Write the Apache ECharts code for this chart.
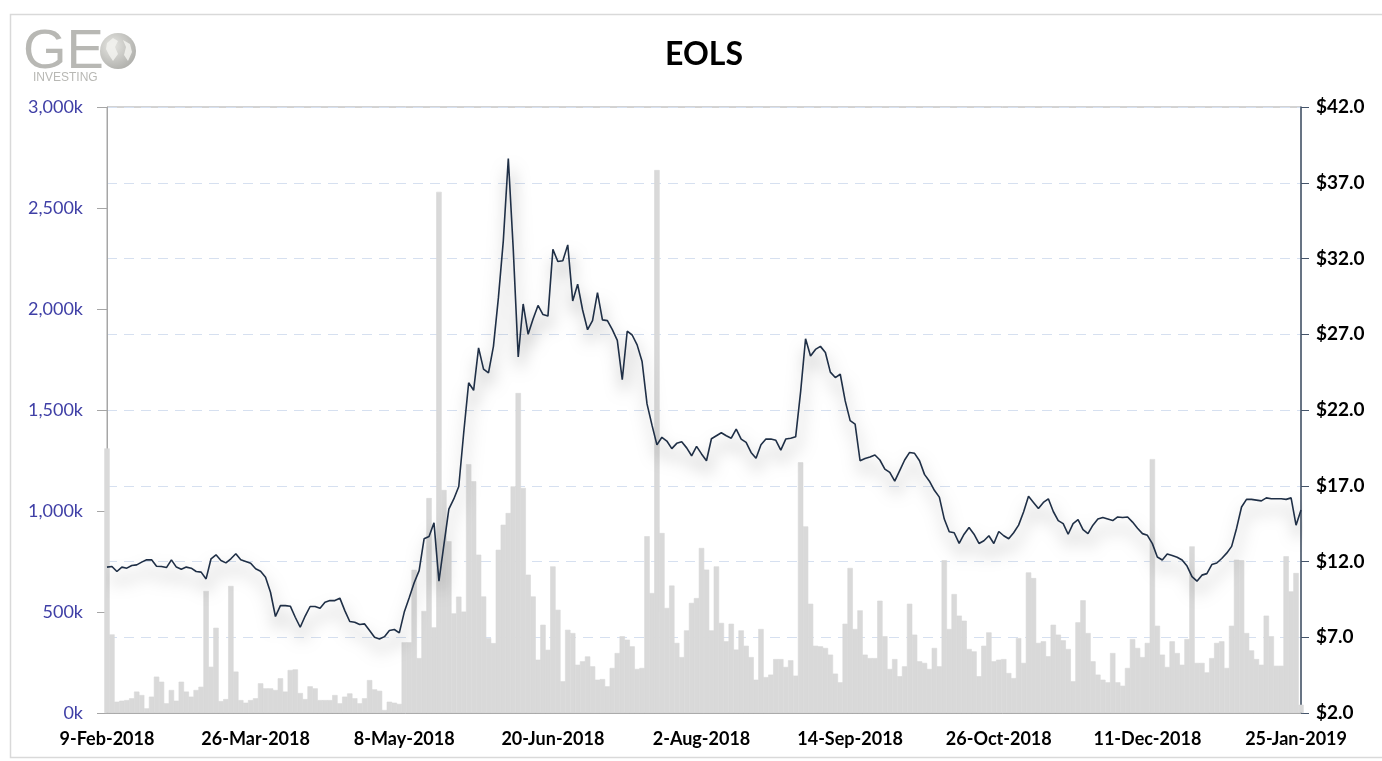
<!DOCTYPE html>
<html>
<head>
<meta charset="utf-8">
<script src="https://cdn.jsdelivr.net/npm/echarts@6/dist/echarts.min.js"></script>
<style>
html,body{margin:0;padding:0;background:#fff;}
#chart{width:1382px;height:761px;}
</style>
</head>
<body>
<div id="chart"></div>
<script>
// ---- DATA ----
var startDate = '2018-02-09';
var numPoints = 242;
var holidays = ['2018-02-19','2018-03-30','2018-05-28','2018-07-04','2018-09-03','2018-11-22','2018-12-05','2018-12-25','2019-01-01','2019-01-21'];
var monthNames = ['Jan','Feb','Mar','Apr','May','Jun','Jul','Aug','Sep','Oct','Nov','Dec'];

// daily closing price ($)
var price = [
11.63,11.67,11.34,11.63,11.56,11.74,11.78,11.96,12.11,12.11,
11.69,11.67,11.60,12.11,11.63,11.49,11.63,11.56,11.34,11.30,
10.85,12.18,12.44,12.07,11.91,12.18,12.51,12.11,12.00,11.89,
11.52,11.36,10.96,9.97,8.37,9.09,9.09,9.05,8.32,7.66,
8.40,9.03,9.03,8.92,9.31,9.42,9.42,9.58,8.76,8.04,
7.99,7.84,7.88,7.44,7.00,6.89,7.04,7.44,7.51,7.29,
8.66,9.60,10.60,11.40,13.50,13.65,14.55,10.70,13.10,15.46,
16.13,16.95,20.50,23.80,23.30,26.10,24.70,24.45,26.20,29.40,
33.20,38.60,32.60,25.50,29.00,27.00,28.00,28.90,28.30,28.20,
32.60,31.80,31.85,32.90,29.20,30.30,28.60,27.30,27.90,29.75,
27.95,27.90,27.30,26.60,24.00,27.20,26.95,26.30,25.20,22.40,
21.00,19.70,20.20,19.95,19.45,19.80,19.90,19.50,18.98,19.60,
19.10,18.65,20.10,20.30,20.50,20.30,20.14,20.74,20.08,19.86,
19.20,18.82,19.70,20.08,20.08,20.00,19.35,20.08,20.14,20.23,
23.20,26.70,25.57,26.00,26.20,25.80,24.50,24.14,24.36,22.60,
21.30,21.07,18.65,18.80,18.90,19.03,18.70,18.10,17.88,17.30,
18.00,18.70,19.20,19.14,18.65,17.75,17.30,16.70,16.25,14.80,
13.96,13.90,13.20,13.80,14.25,13.80,13.19,13.37,13.70,13.19,
13.98,13.70,13.50,13.90,14.40,15.27,16.30,15.90,15.50,15.90,
16.14,15.30,14.70,14.50,13.80,14.50,14.76,14.10,13.84,14.40,
14.80,14.90,14.80,14.70,14.94,14.90,14.94,14.60,14.20,13.84,
13.73,13.18,12.30,12.10,12.50,12.40,12.28,12.10,11.70,11.00,
10.70,11.10,11.20,11.80,11.90,12.20,12.55,13.00,14.20,15.60,
16.10,16.10,16.05,16.00,16.20,16.14,16.14,16.14,16.10,16.20,
14.40,15.40
];

// daily volume (thousands of shares)
var volume = [
1310,389,56,61,64,73,106,89,23,81,
180,155,48,114,61,155,106,81,114,130,
604,229,422,59,69,629,205,64,51,64,
73,147,122,122,114,172,106,213,216,99,
69,132,122,64,64,64,89,48,81,97,
73,48,73,163,117,110,15,56,51,45,
350,350,709,272,505,1064,424,2580,1104,850,
493,576,502,1232,1147,784,577,371,346,808,
932,990,1122,1584,1114,685,577,264,437,313,
726,511,157,412,396,239,256,280,231,165,
168,132,223,297,380,363,330,218,223,875,
594,2688,891,520,631,347,277,409,545,569,
817,710,409,726,446,355,442,314,409,333,
277,165,416,178,190,267,267,228,261,185,
1241,924,541,333,330,322,289,195,152,442,
718,416,508,289,272,272,556,380,218,267,
182,231,541,388,256,248,218,322,231,756,
416,589,482,457,317,305,182,333,399,256,
264,267,198,173,371,248,696,668,347,355,
281,437,388,360,317,157,449,558,396,256,
190,165,152,297,152,135,223,366,322,277,
347,1257,432,289,228,355,297,239,366,825,
248,248,201,272,347,355,223,432,759,756,
396,310,267,239,482,380,234,234,776,602,
693,41
];

// ---- trading-day categories ----
function pad(n){return n<10?'0'+n:''+n;}
var categories = [];
(function(){
  var d = new Date(startDate + 'T12:00:00Z');
  while (categories.length < numPoints) {
    var dow = d.getUTCDay();
    var iso = d.getUTCFullYear() + '-' + pad(d.getUTCMonth()+1) + '-' + pad(d.getUTCDate());
    if (dow !== 0 && dow !== 6 && holidays.indexOf(iso) < 0) {
      categories.push(d.getUTCDate() + '-' + monthNames[d.getUTCMonth()] + '-' + d.getUTCFullYear());
    }
    d.setUTCDate(d.getUTCDate() + 1);
  }
})();

var chart = echarts.init(document.getElementById('chart'), null, {renderer: 'canvas'});
var FONT = 'Lato, "Open Sans", sans-serif';

var option = {
  animation: false,
  backgroundColor: '#ffffff',
  title: {
    text: 'EOLS',
    left: 699, top: 34,
    textAlign: 'center',
    textStyle: {fontFamily: FONT, fontWeight: 'bold', fontSize: 32, color: '#000'}
  },
  grid: {
    left: 107, right: 81, top: 107, bottom: 48,
    show: true, borderColor: '#a6a6a6', borderWidth: 1, backgroundColor: 'transparent'
  },
  xAxis: {
    type: 'category',
    data: categories,
    boundaryGap: false,
    axisLine: {show: true, lineStyle: {color: '#a6a6a6', width: 1}},
    axisTick: {show: false},
    axisLabel: {
      interval: 29,
      margin: 17,
      fontFamily: FONT, fontWeight: 'bold', fontSize: 18, color: '#000'
    },
    splitLine: {show: false}
  },
  yAxis: [
    {
      type: 'value',
      min: 0, max: 3000, interval: 500,
      position: 'left',
      axisLine: {show: true, lineStyle: {color: '#a6a6a6', width: 1}},
      axisTick: {show: true, length: 10, lineStyle: {color: '#a6a6a6'}},
      axisLabel: {
        margin: 24,
        fontFamily: FONT, fontSize: 18, color: '#3f3fa6',
        formatter: function(v){ return v.toLocaleString('en-US') + 'k'; }
      },
      splitLine: {show: false}
    },
    {
      type: 'value',
      min: 2, max: 42, interval: 5,
      position: 'right',
      axisLine: {show: true, lineStyle: {color: '#44546a', width: 1.5}},
      axisTick: {show: true, length: 8, lineStyle: {color: '#44546a'}},
      axisLabel: {
        margin: 15,
        fontFamily: FONT, fontWeight: 'bold', fontSize: 19, color: '#000',
        formatter: function(v){ return '$' + v.toFixed(1); }
      },
      splitLine: {show: true, lineStyle: {color: '#d6e0f0', width: 1, type: [10, 7]}}
    }
  ],
  series: [
    {
      name: 'Volume',
      type: 'bar',
      yAxisIndex: 0,
      data: volume,
      barWidth: 5.4,
      barGap: '-100%',
      itemStyle: {color: '#d9d9d9', borderColor: '#d9d9d9', borderWidth: 0.6},
      clip: true,
      z: 2
    },
    {
      name: 'Price',
      type: 'line',
      yAxisIndex: 1,
      data: price,
      showSymbol: false,
      symbol: 'none',
      lineStyle: {
        color: '#1f2f46', width: 1.6,
        shadowColor: 'rgba(0,0,0,0.5)', shadowBlur: 16, shadowOffsetY: 11, shadowOffsetX: 2
      },
      z: 3
    }
  ],
  graphic: [
    {
      type: 'rect', left: 8, top: 12, z: -1, silent: true,
      shape: {width: 1400, height: 743},
      style: {fill: 'none', stroke: '#d9d9d9', lineWidth: 1.5}
    },
    {
      type: 'text', left: 23, top: 25, silent: true,
      style: {text: 'GE', font: '56px "Liberation Sans", Arial, sans-serif', fill: '#b8b8b4'}
    },
    {
      type: 'circle', silent: true,
      shape: {cx: 118, cy: 51, r: 18},
      style: {
        fill: new echarts.graphic.RadialGradient(0.35, 0.35, 0.8, [
          {offset: 0, color: '#e6e6e2'}, {offset: 1, color: '#a9a9a5'}
        ])
      }
    },
    {
      type: 'polygon', silent: true,
      shape: {points: [[107,43],[113,38],[118,41],[115,47],[118,54],[113,61],[109,55],[106,49]]},
      style: {fill: '#f2f2ef', opacity: 0.85}
    },
    {
      type: 'polygon', silent: true,
      shape: {points: [[123,40],[130,44],[132,52],[128,61],[124,55],[126,47]]},
      style: {fill: '#f2f2ef', opacity: 0.85}
    },
    {
      type: 'text', left: 33, top: 72, silent: true,
      style: {text: 'INVESTING', font: '12px "Liberation Sans", Arial, sans-serif', fill: '#b8b8b4', letterSpacing: 5}
    }
  ]
};
chart.setOption(option);
</script>
</body>
</html>
